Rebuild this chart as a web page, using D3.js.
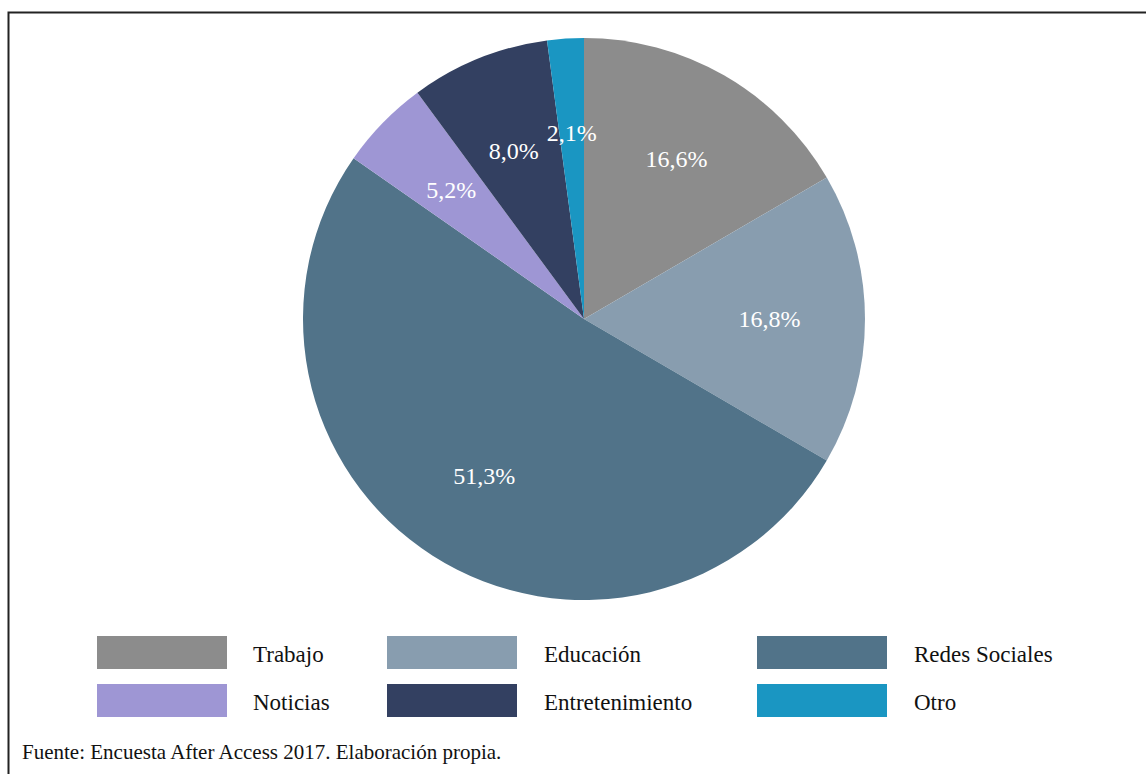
<!DOCTYPE html>
<html>
<head>
<meta charset="utf-8">
<script src="https://cdn.jsdelivr.net/npm/d3@7"></script>
<style>
  html, body { margin: 0; padding: 0; background: #fff; }
  svg { display: block; }
  text { font-family: "Liberation Serif", "Times New Roman", serif; }
</style>
</head>
<body>
<svg id="chart" width="1146" height="774"></svg>
<script>
const categories = ["Trabajo", "Educación", "Redes Sociales", "Noticias", "Entretenimiento", "Otro"];
const values = [16.6, 16.8, 51.3, 5.2, 8.0, 2.1];
const labels = ["16,6%", "16,8%", "51,3%", "5,2%", "8,0%", "2,1%"];
const colors = ["#8c8c8c", "#889daf", "#517389", "#9e96d4", "#334061", "#1a96c2"];
const source = "Fuente: Encuesta After Access 2017. Elaboración propia.";

const svg = d3.select("#chart");
const W = 1146, H = 774;

// frame
svg.append("rect")
  .attr("x", 8.5).attr("y", 12.5)
  .attr("width", W + 20).attr("height", H + 20)
  .attr("fill", "none").attr("stroke", "#222").attr("stroke-width", 2);

const cx = 584, cy = 319, R = 281;
const data = categories.map((c, i) => ({ cat: c, value: values[i], label: labels[i], color: colors[i] }));

const pie = d3.pie().value(d => d.value).sort(null);
const arc = d3.arc().innerRadius(0).outerRadius(R);
const labelArc = d3.arc().innerRadius(R * 0.66).outerRadius(R * 0.66);

const g = svg.append("g").attr("transform", `translate(${cx},${cy})`);
const arcs = pie(data);

g.selectAll("path.slice")
  .data(arcs)
  .join("path")
  .attr("class", "slice")
  .attr("d", arc)
  .attr("fill", d => d.data.color);

// small label nudges as in the original
const nudge = { "Entretenimiento": [-1, 4], "Otro": [0, -1] };

g.selectAll("text.lbl")
  .data(arcs)
  .join("text")
  .attr("class", "lbl")
  .attr("transform", d => {
    const [x, y] = labelArc.centroid(d);
    const n = nudge[d.data.cat] || [0, 0];
    return `translate(${x + n[0]},${y + n[1]})`;
  })
  .attr("text-anchor", "middle")
  .attr("dy", "0.35em")
  .attr("fill", "#fff")
  .attr("font-size", 24)
  .text(d => d.data.label);

// legend
const colX = d3.scaleOrdinal().domain([0, 1, 2]).range([97, 387, 757]);
const rowY = d3.scaleOrdinal().domain([0, 1]).range([636, 684]);
const legend = svg.append("g");
const items = legend.selectAll("g.item")
  .data(data)
  .join("g")
  .attr("class", "item")
  .attr("transform", (d, i) => `translate(${colX(i % 3)},${rowY(Math.floor(i / 3))})`);
items.append("rect")
  .attr("width", 130).attr("height", 33)
  .attr("fill", d => d.color);
items.append("text")
  .attr("x", (d, i) => [156, 157, 157][i % 3])
  .attr("y", 18)
  .attr("dy", "0.35em")
  .attr("font-size", 23)
  .attr("fill", "#111")
  .text(d => d.cat);

svg.append("text")
  .attr("x", 22).attr("y", 759)
  .attr("font-size", 21)
  .attr("fill", "#111")
  .text(source);
</script>
</body>
</html>
